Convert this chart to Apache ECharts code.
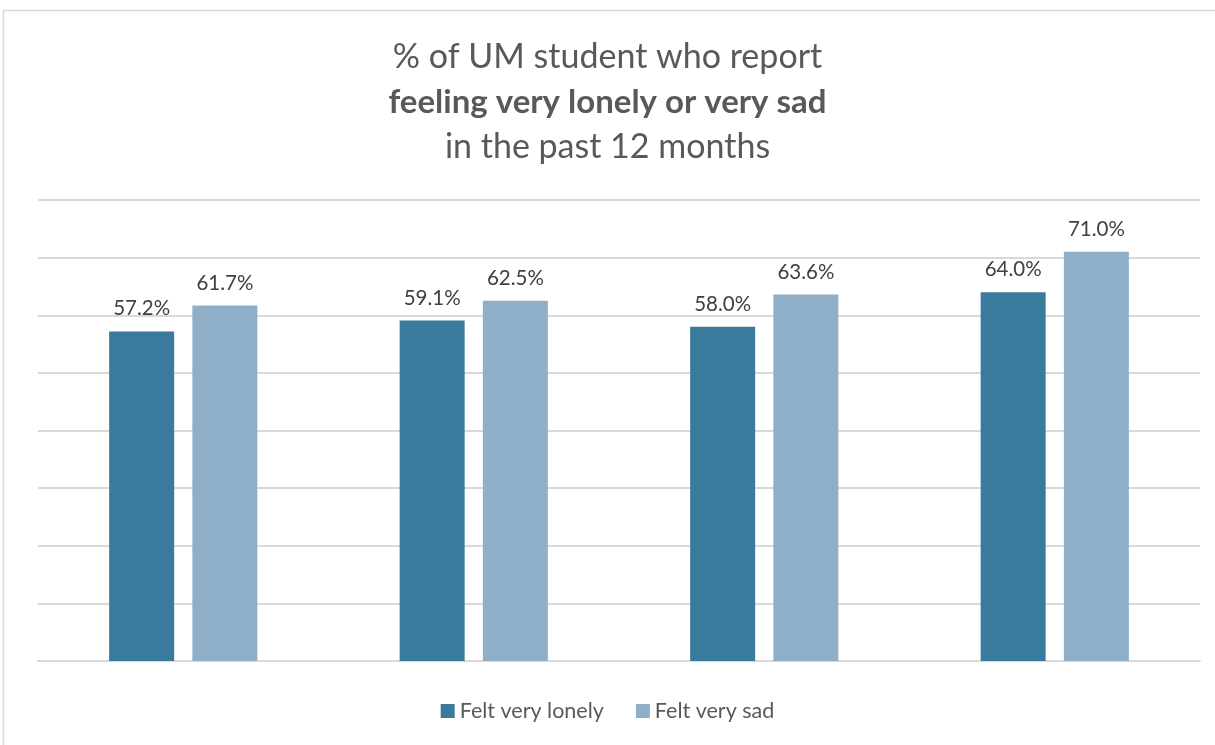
<!DOCTYPE html>
<html>
<head>
<meta charset="utf-8">
<script src="https://cdn.jsdelivr.net/npm/echarts@6/dist/echarts.min.js"></script>
<style>
  html, body { margin: 0; padding: 0; background: #fff; }
  #chart { width: 1215px; height: 745px; }
</style>
</head>
<body>
<div id="chart"></div>
<script>
// Survey groups (not labelled on the axis)
const categories = ['Group 1', 'Group 2', 'Group 3', 'Group 4'];
const lonely = [57.2, 59.1, 58.0, 64.0];
const sad = [61.7, 62.5, 63.6, 71.0];
const seriesNames = ['Felt very lonely', 'Felt very sad'];
const yTicks = { min: 0, max: 80, interval: 10 };

const FONT = 'Lato, "Open Sans", sans-serif';
const chart = echarts.init(document.getElementById('chart'));

const labelCfg = {
  show: true,
  position: 'top',
  distance: 12,
  color: '#404040',
  fontFamily: FONT,
  fontSize: 20.5,
  formatter: p => p.value.toFixed(1) + '%'
};

chart.setOption({
  animation: false,
  backgroundColor: '#fff',
  graphic: [{
    type: 'rect',
    shape: { x: 3.5, y: 10.5, width: 1300, height: 900 },
    style: { fill: 'none', stroke: '#D9D9D9', lineWidth: 1.5 },
    silent: true,
    z: -1
  }],
  title: {
    text: '% of UM student who report\n{b|feeling very lonely or very sad}\nin the past 12 months',
    left: 'center',
    top: 30,
    textStyle: {
      color: '#595959',
      fontFamily: FONT,
      fontSize: 34,
      fontWeight: 'normal',
      lineHeight: 45,
      rich: {
        b: { fontFamily: FONT, fontSize: 33, fontWeight: 'bold', color: '#595959', lineHeight: 45 }
      }
    }
  },
  legend: {
    data: seriesNames,
    bottom: 18,
    left: 'center',
    itemWidth: 14,
    itemHeight: 14,
    itemGap: 32,
    icon: 'rect',
    textStyle: { color: '#595959', fontFamily: FONT, fontSize: 21.5 }
  },
  grid: { left: 38, right: 15, top: 200, bottom: 84, containLabel: false },
  xAxis: {
    type: 'category',
    data: categories,
    axisLine: { lineStyle: { color: '#D9D9D9', width: 2 } },
    axisTick: { show: false },
    axisLabel: { show: false }
  },
  yAxis: {
    type: 'value',
    min: yTicks.min,
    max: yTicks.max,
    interval: yTicks.interval,
    axisLabel: { show: false },
    axisLine: { show: false },
    axisTick: { show: false },
    splitLine: { lineStyle: { color: '#D9D9D9', width: 2 } }
  },
  series: [
    {
      name: seriesNames[0],
      type: 'bar',
      data: lonely,
      barWidth: 65,
      barGap: '28%',
      itemStyle: { color: '#3A7A9C' },
      label: labelCfg
    },
    {
      name: seriesNames[1],
      type: 'bar',
      data: sad,
      barWidth: 65,
      barGap: '28%',
      itemStyle: { color: '#8FAFC8' },
      label: labelCfg
    }
  ]
});
</script>
</body>
</html>
